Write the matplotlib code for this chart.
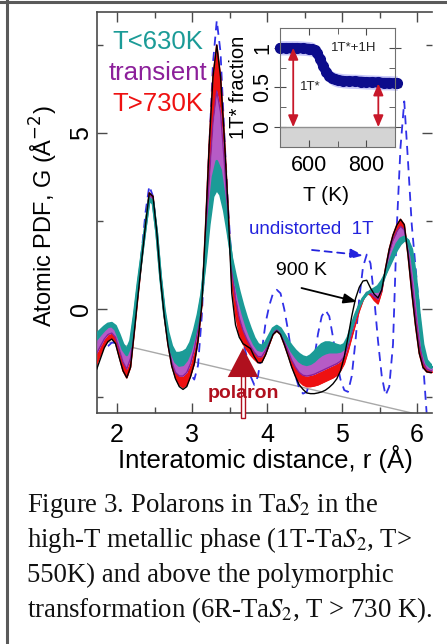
import matplotlib
matplotlib.use("Agg")
import matplotlib.pyplot as plt
import numpy as np
from matplotlib.ticker import MultipleLocator, FixedLocator
from matplotlib.patches import Rectangle

plt.rcParams['font.family'] = ['Liberation Sans', 'DejaVu Sans']

# ---------------- data ----------------
# r grid of the PDF curves (Angstrom)
r = np.round(np.arange(1.73, 6.2301, 0.05), 2)

# coldest teal curve (T<630K)
g_cold = [-0.70, -0.60, -0.50, -0.42, -0.40, -0.48, -0.72, -1.00, -1.15, -0.90,
          -0.15, 0.75, 1.55, 2.35, 3.10, 3.00, 2.15, 0.95, 0.00, -0.65,
          -1.05, -1.25, -1.25, -1.22, -1.15, -0.95, -0.60, -0.15, 0.45, 1.35,
          2.40, 3.20, 3.40, 3.25, 2.80, 2.15, 1.45, 0.95, 0.50, 0.10,
          -0.25, -0.55, -0.82, -1.00, -1.05, -0.95, -0.75, -0.55, -0.48, -0.55,
          -0.72, -0.90, -1.05, -1.18, -1.28, -1.35, -1.38, -1.32, -1.22, -1.10,
          -1.00, -0.95, -0.95, -0.98, -1.02, -1.05, -1.00, -0.80, -0.45, -0.15,
          0.10, 0.30, 0.42, 0.52, 0.58, 0.65, 0.80, 1.00, 1.22, 1.45,
          1.68, 1.85, 1.95, 1.95, 1.70, 1.00, -0.10, -1.00, -1.45, -1.58, -1.62]
# warmest teal curve (teal / transient boundary)
g_warm = [-0.85, -0.72, -0.60, -0.50, -0.48, -0.58, -0.85, -1.15, -1.30, -1.05,
          -0.25, 0.65, 1.50, 2.35, 3.15, 3.05, 2.15, 0.90, -0.10, -0.80,
          -1.25, -1.50, -1.60, -1.58, -1.45, -1.20, -0.80, -0.30, 0.40, 1.55,
          2.75, 3.75, 4.20, 3.95, 3.20, 2.30, 1.40, 0.75, 0.25, -0.15,
          -0.50, -0.78, -1.00, -1.15, -1.18, -1.05, -0.82, -0.60, -0.52, -0.60,
          -0.80, -1.00, -1.20, -1.35, -1.48, -1.55, -1.58, -1.55, -1.48, -1.38,
          -1.30, -1.25, -1.22, -1.22, -1.22, -1.20, -1.12, -0.90, -0.52, -0.20,
          0.08, 0.30, 0.45, 0.50, 0.50, 0.50, 0.70, 1.00, 1.30, 1.60,
          1.85, 2.00, 2.05, 1.95, 1.50, 0.70, -0.35, -1.20, -1.55, -1.65, -1.68]
# coolest red curve (transient / T>730K boundary)
g_red = [-1.25, -1.05, -0.85, -0.72, -0.68, -0.80, -1.15, -1.50, -1.70, -1.40,
         -0.50, 0.50, 1.45, 2.40, 3.25, 3.15, 2.20, 0.90, -0.15, -0.95,
         -1.50, -1.80, -1.90, -1.90, -1.80, -1.55, -1.15, -0.55, 0.40, 1.90,
         3.70, 5.30, 6.20, 5.60, 4.20, 2.60, 1.10, 0.30, -0.25, -0.60,
         -0.85, -1.05, -1.22, -1.35, -1.35, -1.18, -0.92, -0.68, -0.58, -0.68,
         -0.92, -1.18, -1.45, -1.65, -1.80, -1.88, -1.90, -1.88, -1.85, -1.80,
         -1.75, -1.70, -1.65, -1.60, -1.55, -1.48, -1.35, -1.05, -0.65, -0.28,
         0.05, 0.30, 0.48, 0.45, 0.35, 0.28, 0.55, 1.10, 1.60, 1.95,
         2.20, 2.35, 2.25, 1.70, 0.85, -0.10, -0.95, -1.50, -1.70, -1.75, -1.75]
# hottest red curve
g_hot = [-1.55, -1.30, -1.05, -0.88, -0.82, -0.95, -1.35, -1.75, -1.95, -1.65,
         -0.65, 0.40, 1.40, 2.40, 3.30, 3.20, 2.20, 0.85, -0.20, -1.00,
         -1.60, -1.95, -2.15, -2.22, -2.15, -1.90, -1.55, -0.90, 0.10, 2.30,
         4.70, 6.60, 7.50, 6.60, 4.90, 2.90, 0.80, -0.15, -0.70, -0.98,
         -1.15, -1.30, -1.42, -1.52, -1.50, -1.28, -1.00, -0.72, -0.62, -0.72,
         -1.00, -1.30, -1.62, -1.88, -2.05, -2.15, -2.20, -2.20, -2.18, -2.15,
         -2.10, -2.05, -2.00, -1.95, -1.88, -1.75, -1.55, -1.20, -0.80, -0.42,
         -0.05, 0.25, 0.45, 0.40, 0.25, 0.15, 0.50, 1.15, 1.70, 2.10,
         2.38, 2.55, 2.40, 1.55, 0.50, -0.45, -1.25, -1.65, -1.78, -1.80, -1.80]
# 900 K curve
g_900 = [-1.70, -1.40, -1.10, -0.92, -0.85, -0.98, -1.38, -1.75, -1.95, -1.65,
         -0.65, 0.40, 1.40, 2.40, 3.30, 3.20, 2.20, 0.85, -0.20, -1.02,
         -1.62, -1.98, -2.20, -2.28, -2.20, -1.92, -1.55, -0.90, 0.10, 2.30,
         4.70, 6.60, 7.50, 6.60, 4.90, 2.90, 0.45, -0.45, -0.80, -0.98,
         -1.05, -1.12, -1.35, -1.52, -1.52, -1.30, -1.00, -0.72, -0.62, -0.72,
         -1.00, -1.32, -1.65, -1.92, -2.15, -2.28, -2.38, -2.40, -2.40, -2.38,
         -2.35, -2.30, -2.22, -2.12, -1.98, -1.75, -1.35, -0.80, -0.20, 0.30,
         0.62, 0.80, 0.82, 0.60, 0.42, 0.32, 0.55, 1.15, 1.70, 2.10,
         2.38, 2.55, 2.40, 1.55, 0.50, -0.45, -1.25, -1.65, -1.78, -1.80, -1.80]
# undistorted 1T model
g_1t = [-0.90, -1.05, -1.12, -1.05, -0.95, -0.95, -1.05, -1.20, -1.28, -1.10,
        -0.35, 0.55, 1.65, 2.75, 3.50, 3.20, 2.20, 1.00, 0.00, -0.70,
        -1.20, -1.50, -1.60, -1.60, -1.65, -1.85, -2.00, -1.60, -0.20, 2.00,
        4.60, 7.00, 8.20, 7.30, 5.00, 2.90, 1.30, 0.40, -0.30, -0.90,
        -1.35, -1.90, -2.15, -1.90, -1.20, -0.40, 0.10, 0.45, 0.55, 0.45,
        0.00, -0.60, -1.30, -1.90, -2.25, -2.40, -2.35, -2.00, -1.40, -0.70,
        -0.20, -0.03, -0.20, -0.80, -1.50, -2.00, -2.30, -2.35, -1.90, -0.90,
        0.30, 1.20, 1.55, 1.30, 0.30, -0.90, -1.90, -2.45, -2.20, -1.00,
        2.30, 4.60, 5.90, 4.20, 2.40, 1.20, 0.00, -1.50, -3.00, -3.50, -3.50]
# -4*pi*rho0*r baseline
base_r = [1.73, 6.23]
base_g = [-0.85, -3.10]

# inset: 1T* fraction vs temperature
temp = [500, 520, 540, 560, 580, 600, 610, 620, 630, 640, 650, 660, 670, 680,
        690, 700, 720, 740, 760, 780, 800, 820, 840, 860, 880, 900, 908]
frac = [1.0, 1.0, 1.0, 1.0, 0.995, 0.99, 0.985, 0.97, 0.93, 0.86, 0.77, 0.70,
        0.65, 0.62, 0.605, 0.595, 0.585, 0.58, 0.578, 0.575, 0.57, 0.568,
        0.565, 0.56, 0.56, 0.555, 0.555]
frac_err = 0.09
arrow_T = [546, 842]
arrow_top = [1.0, 0.55]

teal = '#1b9b97'
purple = '#8c1f9a'
red = '#ee1111'
dark = '#4a4a4a'

fig = plt.figure(figsize=(4.47, 6.44), dpi=100)

# ---------------- main PDF panel ----------------
ax = fig.add_axes([97/447, 1-413/644, 335/447, 401/644])
ax.plot(base_r, base_g, color='#a8a8a8', lw=1.0, zorder=1)
ax.plot(r, g_1t, color='#3030e8', lw=1.3, dashes=(5, 3.5), zorder=2)

ax.fill_between(r, g_hot, g_red, color=red, lw=0, zorder=3)
ax.plot(r, g_hot, color=red, lw=1.2, zorder=3)
ax.fill_between(r, g_red, g_warm, color='#b65bc6', lw=0, zorder=3)
ax.plot(r, g_red, color=purple, lw=1.0, zorder=3)
ax.fill_between(r, g_warm, g_cold, color=teal, lw=0, zorder=4)
ax.plot(r, g_warm, color=teal, lw=2.0, zorder=4)
ax.plot(r, g_cold, color=teal, lw=2.0, zorder=4)
ax.plot(r, g_900, color='black', lw=1.0, zorder=5)

ax.set_xlim(1.733, 6.2)
ax.set_ylim(-2.95, 8.44)
ax.xaxis.set_major_locator(MultipleLocator(1))
ax.xaxis.set_minor_locator(MultipleLocator(0.5))
ax.yaxis.set_major_locator(MultipleLocator(5))
ax.yaxis.set_minor_locator(MultipleLocator(2.5))
ax.tick_params(which='both', direction='in', top=True, right=True, color=dark)
ax.tick_params(which='major', length=7, width=1.0, labelsize=18, pad=7)
ax.tick_params(which='minor', length=4, width=1.0)
ax.tick_params(axis='y', labelrotation=90, pad=3)
for lab in ax.get_yticklabels():
    lab.set_va('center')
ax.spines['right'].set_visible(False)
for s in ['left', 'top', 'bottom']:
    ax.spines[s].set_color(dark)
    ax.spines[s].set_linewidth(1.2)

ax.set_xlabel('Interatomic distance, r (Å)', fontsize=18.5)
ax.xaxis.set_label_coords(0.504, -0.08)
ax.set_ylabel('Atomic PDF, G (Å$^{-2}$)', fontsize=17)
ax.yaxis.set_label_coords(-0.11, 0.49)

# family legend
ax.text(2.55, 7.6, 'T<630K', color=teal, fontsize=18.5, ha='center', va='center')
ax.text(2.55, 6.7, 'transient', color=purple, fontsize=18.5, ha='center', va='center')
ax.text(2.55, 5.82, 'T>730K', color=red, fontsize=18.5, ha='center', va='center')

# annotations
ax.text(4.59, 2.25, 'undistorted  1T', color='#2323dd', fontsize=13.5,
        ha='center', va='center')
ax.annotate('', xy=(5.29, 1.53), xytext=(4.6, 1.68),
            arrowprops=dict(arrowstyle='-|>,head_length=0.8,head_width=0.3',
                            color='#2323dd', lw=1.3, ls=(0, (4, 3)),
                            shrinkA=0, shrinkB=0))
ax.text(4.46, 1.09, '900 K', color='black', fontsize=14, ha='center', va='center')
ax.annotate('', xy=(5.2, 0.21), xytext=(4.46, 0.6),
            arrowprops=dict(arrowstyle='-|>,head_length=0.8,head_width=0.3',
                            color='black', lw=1.3, shrinkA=0, shrinkB=0))

# polaron arrow
ax.add_patch(Rectangle((3.655, -3.1), 0.053, 1.2, facecolor='white',
                       edgecolor='#b0101e', lw=1.0, zorder=6, clip_on=False))
ax.annotate('', xy=(3.68, -1.1), xytext=(3.68, -1.95),
            arrowprops=dict(arrowstyle='-|>,head_length=1.05,head_width=0.55',
                            color='#b0101e', lw=0, mutation_scale=20,
                            shrinkA=0, shrinkB=0), zorder=7)
ax.text(3.68, -2.39, 'polaron', color='#b0101e', fontsize=14, fontweight='bold',
        ha='center', va='center', zorder=8)

# ---------------- inset ----------------
ins = fig.add_axes([280/447, 1-147/644, 115/447, 119/644])
ins.axhspan(-0.25, 0, color='#d4d4d4', lw=0)
ins.axhline(0, color='#909090', lw=1.0)
lo = [f - frac_err for f in frac]
hi = [f + frac_err for f in frac]
ins.fill_between(temp, lo, hi, color='#9a9af2', alpha=0.55, lw=0, clip_on=False)
ins.plot(temp, frac, color='#0c0c8c', lw=7, solid_capstyle='round', clip_on=False)
ins.plot(temp, frac, 'o', color='#0c0c8c', ms=7, clip_on=False)
for t, top in zip(arrow_T, arrow_top):
    ins.annotate('', xy=(t, 0.0), xytext=(t, top),
                 arrowprops=dict(arrowstyle='<|-|>,head_length=0.7,head_width=0.3',
                                 color='#c8182a', lw=1.3, mutation_scale=10,
                                 shrinkA=0, shrinkB=0))
ins.text(568, 0.5, '1T*', fontsize=9.5, color='#222222', ha='left', va='center')
ins.text(677, 1.0, '1T*+1H', fontsize=9.5, color='#222222', ha='left', va='center')

ins.set_xlim(500, 900)
ins.set_ylim(-0.25, 1.25)
ins.xaxis.set_major_locator(FixedLocator([600, 800]))
ins.xaxis.set_minor_locator(FixedLocator([500, 700, 900]))
ins.yaxis.set_major_locator(MultipleLocator(0.5))
ins.yaxis.set_minor_locator(MultipleLocator(0.25))
ins.yaxis.set_major_formatter(plt.FuncFormatter(lambda v, p: f'{v:g}'))
ins.tick_params(which='both', direction='in', top=True, right=True, color=dark)
ins.tick_params(which='major', length=5, labelsize=15.5, pad=6)
ins.tick_params(which='minor', length=4)
ins.tick_params(axis='y', which='major', direction='inout', length=8,
                labelrotation=90, pad=1)
for lab in ins.get_yticklabels():
    lab.set_va('center')
for s in ins.spines.values():
    s.set_color('#707070')
ins.set_xlabel('T (K)', fontsize=15)
ins.xaxis.set_label_coords(0.4, -0.33)
ins.set_ylabel('1T* fraction', fontsize=14.5)
ins.yaxis.set_label_coords(-0.28, 0.5)

# ---------------- frame and caption ----------------
fig.add_artist(plt.Line2D([7/447, 7/447], [0, 1], color='#5a5a5a', lw=2.2,
                          transform=fig.transFigure))
fig.add_artist(plt.Line2D([0, 1], [1-2/644, 1-2/644], color='#5a5a5a', lw=2.2,
                          transform=fig.transFigure))

caption = ['Figure 3. Polarons in Ta$S_2$ in the',
           'high-T metallic phase (1T-Ta$S_2$, T>',
           '550K) and above the polymorphic',
           'transformation (6R-Ta$S_2$, T > 730 K).']
baselines = [512, 547, 582, 617]
for line, yb in zip(caption, baselines):
    fig.text(27/447, 1-yb/644, line, fontsize=19.3, family='Liberation Serif',
             math_fontfamily='stix', ha='left', va='baseline', color='#111111')

fig.savefig('out.png', dpi=100)
